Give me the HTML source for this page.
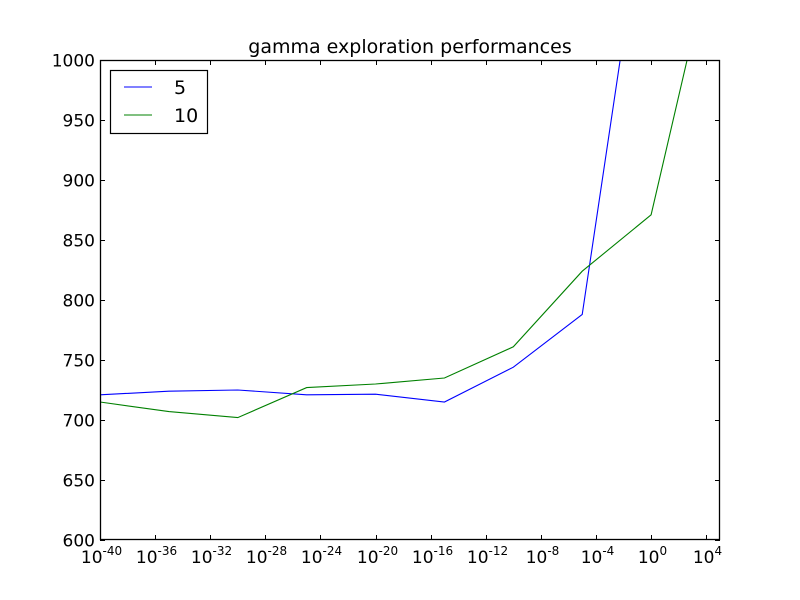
<!DOCTYPE html>
<html><head><meta charset="utf-8"><style>
html,body{margin:0;padding:0;background:#fff;width:800px;height:600px;overflow:hidden}
text{font-family:"DejaVu Sans","Liberation Sans",sans-serif}
</style></head><body>
<svg id="chart" width="800" height="600" xmlns="http://www.w3.org/2000/svg">
<rect width="800" height="600" fill="#fff"/>
<text x="410" y="53" text-anchor="middle" font-size="19">gamma exploration performances</text>
<defs><clipPath id="plotclip"><rect x="100" y="60" width="620" height="480"/></clipPath></defs>
<g id="series" clip-path="url(#plotclip)"></g>
<g id="axes"></g>
<g>
<rect x="110.5" y="70.5" width="97" height="63" fill="#fff" stroke="#000" stroke-width="1.2"/>
<line x1="124" y1="87" x2="152" y2="87" stroke="#0000ff"/>
<text x="174" y="94" font-size="19">5</text>
<line x1="124" y1="115" x2="152" y2="115" stroke="#008000"/>
<text x="174" y="122" font-size="19">10</text>
</g>
</svg>
<script>
const exponents = [-40,-35,-30,-25,-20,-15,-10,-5,0,5];
const series5 = [721,724,725,721,721.5,715,744,788,1173,1500];
const series10 = [715,707,702,727,730,735,761,824,871,1118];
const xTickExps = [-40,-36,-32,-28,-24,-20,-16,-12,-8,-4,0,4];
const yTicks = [600,650,700,750,800,850,900,950,1000];
const X0=100,X1=720,Y0=540,Y1=60,XMIN=-40,XMAX=5,YMIN=600,YMAX=1000;
function xs(e){return X0+(e-XMIN)/(XMAX-XMIN)*(X1-X0);}
function ys(v){return Y0-(v-YMIN)/(YMAX-YMIN)*(Y0-Y1);}
const NS="http://www.w3.org/2000/svg";
const sg=document.getElementById('series'), ag=document.getElementById('axes');
function mk(tag,attrs,parent){const e=document.createElementNS(NS,tag);for(const k in attrs)e.setAttribute(k,attrs[k]);parent.appendChild(e);return e;}
function drawLine(vals,color,name){
  const p=mk('polyline',{points:vals.map((v,i)=>xs(exponents[i])+','+ys(v)).join(' '),fill:'none',stroke:color,'stroke-width':1.1},sg);
  
  
}
drawLine(series5,'#0000ff','line-5');
drawLine(series10,'#008000','line-10');
const fr=mk('rect',{x:100.5,y:60.5,width:619,height:479,fill:'none',stroke:'#000','stroke-width':1.3},ag);


xTickExps.forEach(e=>{
  const x=Math.round(xs(e))+0.5;
  mk('line',{x1:x,y1:540,x2:x,y2:535,stroke:'#000'},ag);
  mk('line',{x1:x,y1:60,x2:x,y2:65,stroke:'#000'},ag);
  const t=mk('text',{x:x+1,y:563,'text-anchor':'middle','font-size':17},ag);
  
  
  const a=document.createElementNS(NS,'tspan');a.textContent='10';t.appendChild(a);
  const b=document.createElementNS(NS,'tspan');b.setAttribute('dy','-8');b.setAttribute('font-size','12');b.textContent=String(e);t.appendChild(b);
});
yTicks.forEach(v=>{
  const y=Math.round(ys(v))+0.5;
  mk('line',{x1:100,y1:y,x2:105,y2:y,stroke:'#000'},ag);
  mk('line',{x1:720,y1:y,x2:715,y2:y,stroke:'#000'},ag);
  const t=mk('text',{x:95,y:y+6,'text-anchor':'end','font-size':17},ag);
  
  
  t.textContent=v;
});
</script>
</body></html>
